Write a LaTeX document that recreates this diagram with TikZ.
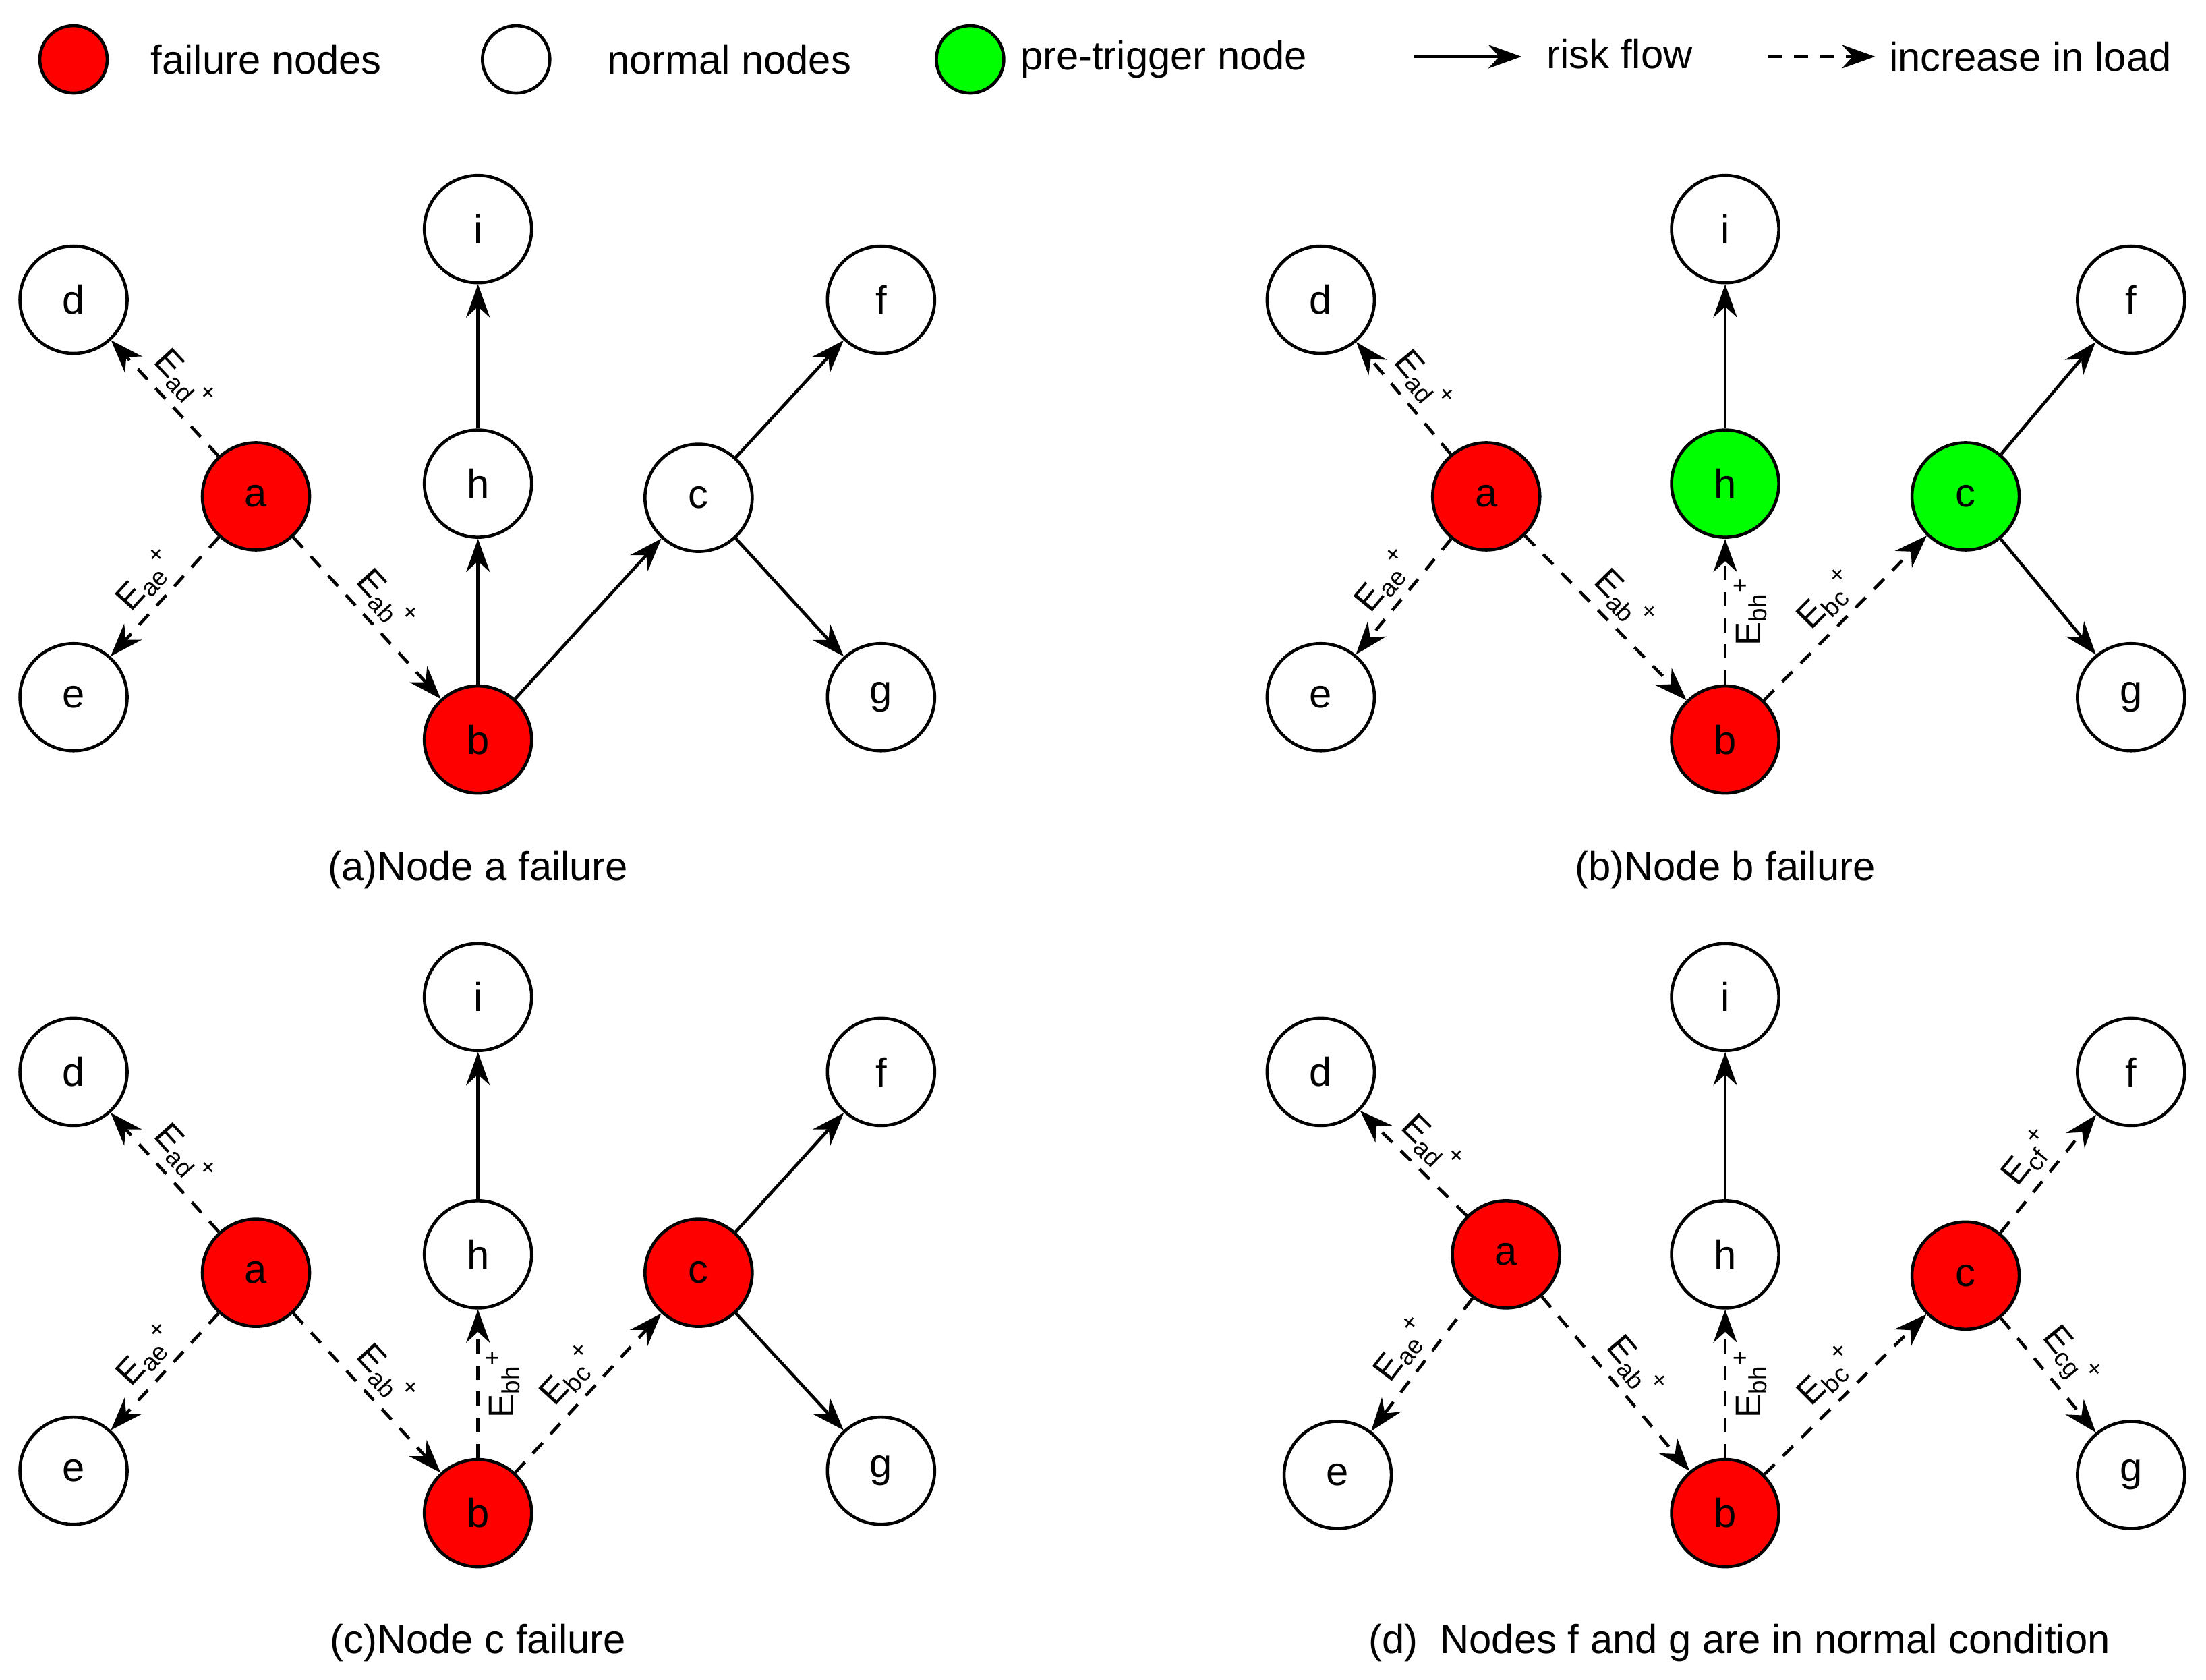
\documentclass[tikz,border=0pt]{standalone}
\usepackage{fontspec}
\setmainfont{Liberation Sans}
\usetikzlibrary{positioning,calc,arrows.meta}
\definecolor{failred}{RGB}{255,0,0}
\definecolor{trigreen}{RGB}{0,255,0}
\tikzset{
  main node/.style={draw, circle, line width=1.3pt, minimum size=1.59cm, inner sep=0pt, font=\fontsize{17}{17}\selectfont},
  fail/.style={main node, fill=failred},
  trig/.style={main node, fill=trigreen},
  risk/.style={-{Stealth[length=14pt,width=10pt]}, line width=1.3pt},
  load/.style={risk, dashed, dash pattern=on 6pt off 5pt},
  lab/.style={sloped, font=\fontsize{15}{15}\selectfont, inner sep=3pt},
  captxt/.style={font=\fontsize{17}{17}\selectfont}
}
\newcommand{\Elab}[1]{E\textsubscript{#1}\textsuperscript{+}}
\begin{document}
\begin{tikzpicture}[x=0.02097cm, y=-0.02097cm]
  \useasboundingbox (0,0) rectangle (1560,1188);

  % legend
  \node[fail, minimum size=1.0cm] (lf) at (52,42) {};
  \node[captxt, right=0.5cm of lf] {failure nodes};
  \node[main node, minimum size=1.0cm] (ln) at (365,42) {};
  \node[captxt, right=0.7cm of ln] {normal nodes};
  \node[trig, minimum size=1.0cm] (lt) at (686,42) {};
  \node[captxt, right=0.1cm of lt] {pre-trigger node};
  \coordinate (r1) at (1000,40); \coordinate (r2) at (1076,40);
  \draw[risk] (r1) -- (r2);
  \node[captxt, anchor=west] at (1088,38) {risk flow};
  \coordinate (l1) at (1250,40); \coordinate (l2) at (1326,40);
  \draw[load] (l1) -- (l2);
  \node[captxt, anchor=west] at (1330,40) {increase in load};

  % (a)
  \begin{scope}[name prefix=A-]
    \node[main node] (d) at (52,212) {d};
    \node[main node] (e) at (52,493) {e};
    \node[fail] (a) at (181,351) {a};
    \node[fail] (b) at (338,523) {b};
    \node[main node] (h) at (338,342) {h};
    \node[main node] (i) at (338,162) {i};
    \node[main node] (c) at (494,352) {c};
    \node[main node] (f) at (623,212) {f};
    \node[main node] (g) at (623,493) {g};
    \draw[load] (a) -- node[lab, above] {\Elab{ad}} (d);
    \draw[load] (a) -- node[lab, above] {\Elab{ae}} (e);
    \draw[load] (a) -- node[lab, above] {\Elab{ab}} (b);
    \draw[risk] (b) -- (h);
    \draw[risk] (h) -- (i);
    \draw[risk] (b) -- (c);
    \draw[risk] (c) -- (f);
    \draw[risk] (c) -- (g);
    \node[captxt] at (338,615) {(a)Node a failure};
  \end{scope}

  % (b)
  \begin{scope}[name prefix=B-]
    \node[main node] (d) at (934,212) {d};
    \node[main node] (e) at (934,493) {e};
    \node[fail] (a) at (1051,351) {a};
    \node[fail] (b) at (1220,523) {b};
    \node[trig] (h) at (1220,342) {h};
    \node[main node] (i) at (1220,162) {i};
    \node[trig] (c) at (1390,351) {c};
    \node[main node] (f) at (1507,212) {f};
    \node[main node] (g) at (1507,493) {g};
    \draw[load] (a) -- node[lab, above] {\Elab{ad}} (d);
    \draw[load] (a) -- node[lab, above] {\Elab{ae}} (e);
    \draw[load] (a) -- node[lab, above] {\Elab{ab}} (b);
    \draw[load] (b) -- node[lab, below] {\Elab{bh}} (h);
    \draw[load] (b) -- node[lab, above] {\Elab{bc}} (c);
    \draw[risk] (h) -- (i);
    \draw[risk] (c) -- (f);
    \draw[risk] (c) -- (g);
    \node[captxt] at (1220,615) {(b)Node b failure};
  \end{scope}

  % (c)
  \begin{scope}[name prefix=C-]
    \node[main node] (d) at (52,758) {d};
    \node[main node] (e) at (52,1040) {e};
    \node[fail] (a) at (181,900) {a};
    \node[fail] (b) at (338,1070) {b};
    \node[main node] (h) at (338,887) {h};
    \node[main node] (i) at (338,705) {i};
    \node[fail] (c) at (494,900) {c};
    \node[main node] (f) at (623,758) {f};
    \node[main node] (g) at (623,1040) {g};
    \draw[load] (a) -- node[lab, above] {\Elab{ad}} (d);
    \draw[load] (a) -- node[lab, above] {\Elab{ae}} (e);
    \draw[load] (a) -- node[lab, above] {\Elab{ab}} (b);
    \draw[load] (b) -- node[lab, below] {\Elab{bh}} (h);
    \draw[load] (b) -- node[lab, above] {\Elab{bc}} (c);
    \draw[risk] (h) -- (i);
    \draw[risk] (c) -- (f);
    \draw[risk] (c) -- (g);
    \node[captxt] at (338,1162) {(c)Node c failure};
  \end{scope}

  % (d)
  \begin{scope}[name prefix=D-]
    \node[main node] (d) at (934,758) {d};
    \node[main node] (e) at (946,1043) {e};
    \node[fail] (a) at (1065,887) {a};
    \node[fail] (b) at (1220,1070) {b};
    \node[main node] (h) at (1220,887) {h};
    \node[main node] (i) at (1220,705) {i};
    \node[fail] (c) at (1390,902) {c};
    \node[main node] (f) at (1507,758) {f};
    \node[main node] (g) at (1507,1043) {g};
    \draw[load] (a) -- node[lab, above] {\Elab{ad}} (d);
    \draw[load] (a) -- node[lab, above] {\Elab{ae}} (e);
    \draw[load] (a) -- node[lab, above] {\Elab{ab}} (b);
    \draw[load] (b) -- node[lab, below] {\Elab{bh}} (h);
    \draw[load] (b) -- node[lab, above] {\Elab{bc}} (c);
    \draw[risk] (h) -- (i);
    \draw[load] (c) -- node[lab, above] {\Elab{cf}} (f);
    \draw[load] (c) -- node[lab, above] {\Elab{cg}} (g);
    \node[captxt] at (1230,1162) {(d)\ \ Nodes f and g are in normal condition};
  \end{scope}
\end{tikzpicture}
\end{document}
